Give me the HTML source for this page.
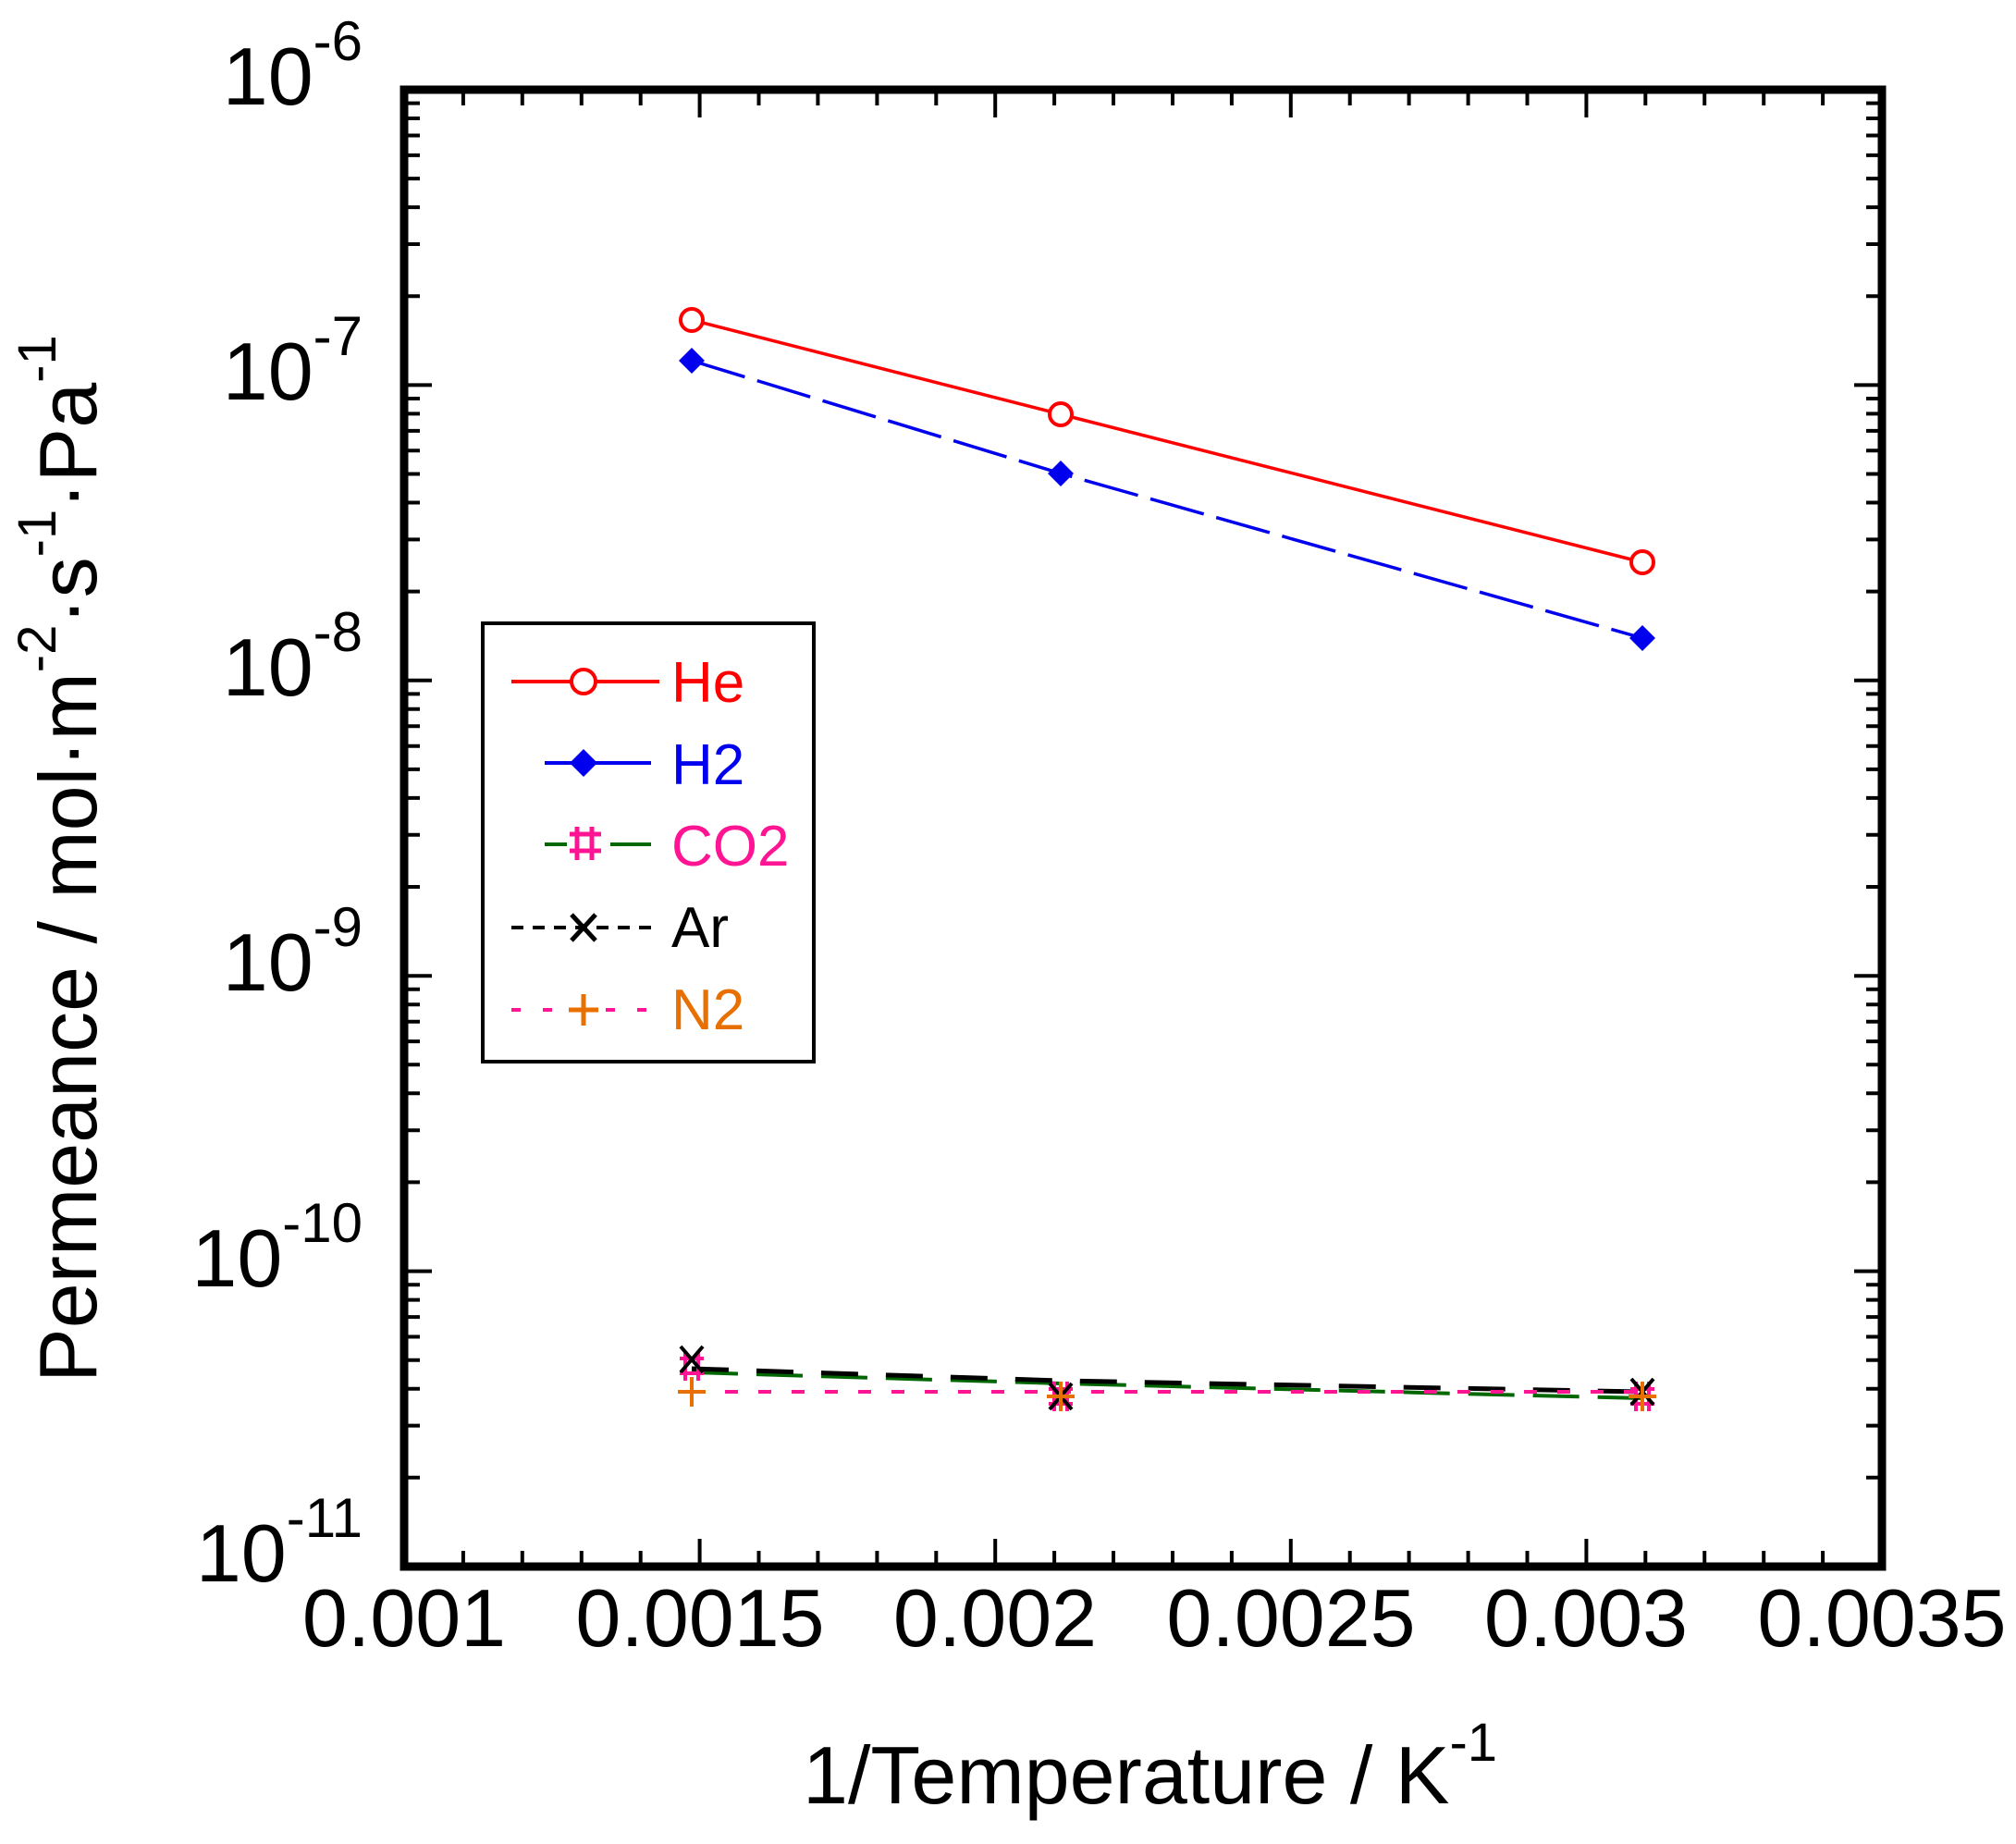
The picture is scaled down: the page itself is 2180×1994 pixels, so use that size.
<!DOCTYPE html>
<html><head><meta charset="utf-8"><style>html,body{margin:0;padding:0;background:#fff}svg{display:block}</style></head>
<body>
<svg width="2180" height="1994" viewBox="0 0 2180 1994" xmlns="http://www.w3.org/2000/svg" font-family="Liberation Sans, Arial, sans-serif">
<rect width="2180" height="1994" fill="#fff"/>
<g stroke="#000" stroke-width="4" fill="none">
<path d="M500.9,1694v-17M564.8,1694v-17M628.8,1694v-17M692.7,1694v-17M756.6,1694v-30M820.5,1694v-17M884.4,1694v-17M948.4,1694v-17M1012.3,1694v-17M1076.2,1694v-30M1140.1,1694v-17M1204,1694v-17M1268,1694v-17M1331.9,1694v-17M1395.8,1694v-30M1459.7,1694v-17M1523.6,1694v-17M1587.6,1694v-17M1651.5,1694v-17M1715.4,1694v-30M1779.3,1694v-17M1843.2,1694v-17M1907.2,1694v-17M1971.1,1694v-17"/>
<path d="M500.9,97v17M564.8,97v17M628.8,97v17M692.7,97v17M756.6,97v30M820.5,97v17M884.4,97v17M948.4,97v17M1012.3,97v17M1076.2,97v30M1140.1,97v17M1204,97v17M1268,97v17M1331.9,97v17M1395.8,97v30M1459.7,97v17M1523.6,97v17M1587.6,97v17M1651.5,97v17M1715.4,97v30M1779.3,97v17M1843.2,97v17M1907.2,97v17M1971.1,97v17"/>
<path d="M437,1597.8h17M437,1541.6h17M437,1501.7h17M437,1470.7h17M437,1445.5h17M437,1424.1h17M437,1405.6h17M437,1389.2h17M437,1374.6h30M437,1278.4h17M437,1222.2h17M437,1182.3h17M437,1151.3h17M437,1126.1h17M437,1104.7h17M437,1086.2h17M437,1069.8h17M437,1055.2h30M437,959h17M437,902.8h17M437,862.9h17M437,831.9h17M437,806.7h17M437,785.3h17M437,766.8h17M437,750.4h17M437,735.8h30M437,639.6h17M437,583.4h17M437,543.5h17M437,512.5h17M437,487.3h17M437,465.9h17M437,447.4h17M437,431h17M437,416.4h30M437,320.2h17M437,264h17M437,224.1h17M437,193.1h17M437,167.9h17M437,146.5h17M437,128h17M437,111.6h17"/>
<path d="M2035,1597.8h-17M2035,1541.6h-17M2035,1501.7h-17M2035,1470.7h-17M2035,1445.5h-17M2035,1424.1h-17M2035,1405.6h-17M2035,1389.2h-17M2035,1374.6h-30M2035,1278.4h-17M2035,1222.2h-17M2035,1182.3h-17M2035,1151.3h-17M2035,1126.1h-17M2035,1104.7h-17M2035,1086.2h-17M2035,1069.8h-17M2035,1055.2h-30M2035,959h-17M2035,902.8h-17M2035,862.9h-17M2035,831.9h-17M2035,806.7h-17M2035,785.3h-17M2035,766.8h-17M2035,750.4h-17M2035,735.8h-30M2035,639.6h-17M2035,583.4h-17M2035,543.5h-17M2035,512.5h-17M2035,487.3h-17M2035,465.9h-17M2035,447.4h-17M2035,431h-17M2035,416.4h-30M2035,320.2h-17M2035,264h-17M2035,224.1h-17M2035,193.1h-17M2035,167.9h-17M2035,146.5h-17M2035,128h-17M2035,111.6h-17"/>
</g>
<rect x="437" y="97" width="1598" height="1597" fill="none" stroke="#000" stroke-width="9"/>

<g font-size="88" fill="#000" text-anchor="end">
<text x="392" y="113">10<tspan font-size="60" dy="-48">-6</tspan></text>
<text x="392" y="432">10<tspan font-size="60" dy="-48">-7</tspan></text>
<text x="392" y="752">10<tspan font-size="60" dy="-48">-8</tspan></text>
<text x="392" y="1071">10<tspan font-size="60" dy="-48">-9</tspan></text>
<text x="392" y="1391">10<tspan font-size="60" dy="-48">-10</tspan></text>
<text x="392" y="1710">10<tspan font-size="60" dy="-48">-11</tspan></text>
</g>
<g font-size="88" fill="#000" text-anchor="middle">
<text x="437" y="1780">0.001</text>
<text x="757" y="1780">0.0015</text>
<text x="1076" y="1780">0.002</text>
<text x="1396" y="1780">0.0025</text>
<text x="1715" y="1780">0.003</text>
<text x="2035" y="1780">0.0035</text>
</g>
<text x="868" y="1950" font-size="88" fill="#000">1/Temperature / K<tspan font-size="58" dy="-46">-1</tspan></text>
<text transform="translate(104,1495) rotate(-90)" font-size="88" fill="#000">Permeance / mol·m<tspan font-size="58" dy="-44">-2</tspan><tspan dy="44">·s</tspan><tspan font-size="58" dy="-44">-1</tspan><tspan dy="44">·Pa</tspan><tspan font-size="58" dy="-44">-1</tspan></text>

<polyline points="748,346 1147,448 1776,608" fill="none" stroke="#ff0000" stroke-width="3.5"/>
<polyline points="748,390 1147,512 1776,690" fill="none" stroke="#0000ee" stroke-width="3.5" stroke-dasharray="60,14"/>
<polyline points="748,1484 1147,1496 1776,1512" fill="none" stroke="#006600" stroke-width="4" stroke-dasharray="50,20"/>
<polyline points="748,1480 1147,1493 1776,1505" fill="none" stroke="#000" stroke-width="5" stroke-dasharray="40,30"/>
<polyline points="748,1505 1147,1505 1776,1505" fill="none" stroke="#ff1493" stroke-width="4" stroke-dasharray="14,22"/>

<g fill="#fff" stroke="#ff0000" stroke-width="4">
<circle cx="748" cy="346" r="12"/><circle cx="1147" cy="448" r="12"/><circle cx="1776" cy="608" r="12"/>
</g>
<g fill="#0000ee">
<path d="M748,376 l14,14 -14,14 -14,-14z"/><path d="M1147,498 l14,14 -14,14 -14,-14z"/><path d="M1776,676 l14,14 -14,14 -14,-14z"/>
</g>
<g fill="none" stroke-width="4">
<path d="M735,1469h26M735,1485h26M741,1461v32M755,1461v32M1134,1502h26M1134,1518h26M1140,1494v32M1154,1494v32M1763,1502h26M1763,1518h26M1769,1494v32M1783,1494v32" stroke="#ff1493"/>
<path d="M736,1456l24,28M760,1456l-24,28M1135,1496l24,28M1159,1496l-24,28M1764,1491l24,28M1788,1491l-24,28" stroke="#000"/>
<path d="M733,1505h30M748,1489v32M1132,1510h30M1147,1494v32M1761,1510h30M1776,1494v32" stroke="#e87000"/>
</g>

<rect x="522" y="674" width="358" height="474" fill="#fff" stroke="#000" stroke-width="4"/>
<g stroke-width="4" fill="none">
<line x1="553" y1="737" x2="713" y2="737" stroke="#ff0000"/>
<circle cx="631" cy="737" r="13" stroke="#ff0000" fill="#fff"/>
<line x1="589" y1="825" x2="704" y2="825" stroke="#0000ee"/>
<path d="M631,810 l15,15 -15,15 -15,-15z" fill="#0000ee" stroke="none"/>
<line x1="589" y1="913" x2="613" y2="913" stroke="#006600"/>
<line x1="660" y1="913" x2="704" y2="913" stroke="#006600"/>
<path d="M616,902 h34 M616,920 h34 M624,894 v36 M640,894 v36" stroke="#ff1493" stroke-width="5"/>
<line x1="553" y1="1003" x2="713" y2="1003" stroke="#000" stroke-dasharray="13,10"/>
<path d="M618,989 l26,28 M644,989 l-26,28" stroke="#000" stroke-width="5"/>
<line x1="553" y1="1092" x2="713" y2="1092" stroke="#ff1493" stroke-dasharray="10,24"/>
<path d="M615,1092 h32 M631,1075 v34" stroke="#e87000" stroke-width="5"/>
</g>
<g font-size="62">
<text x="726" y="759" fill="#ff0000">He</text>
<text x="726" y="848" fill="#0000ee">H2</text>
<text x="726" y="936" fill="#ff1493">CO2</text>
<text x="726" y="1024" fill="#000">Ar</text>
<text x="726" y="1113" fill="#e87000">N2</text>
</g>
</svg>
</body></html>
